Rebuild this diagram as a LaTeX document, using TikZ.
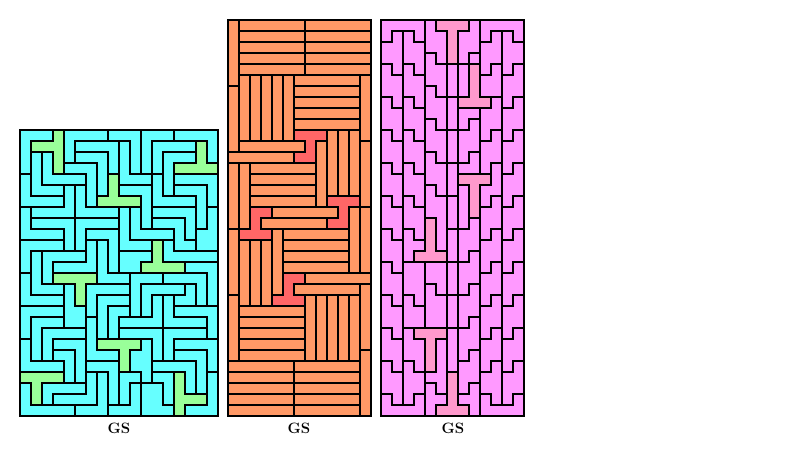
\documentclass[tikz,border=0pt]{standalone}
\usepackage{tikz}
\definecolor{cyanT}{HTML}{66FFFF}
\definecolor{greenT}{HTML}{99FF99}
\definecolor{orangeT}{HTML}{FF9966}
\definecolor{redT}{HTML}{FF6666}
\definecolor{pinkT}{HTML}{FF99FF}
\definecolor{tpinkT}{HTML}{FF99CC}
\tikzset{tgline/.style={line width=1.05pt,line cap=rect,black},
  gslabel/.style={font=\fontsize{15}{17}\selectfont\bfseries,inner sep=0pt}}
\newcommand\TGbox[5]{\fill[#5] (#1,#2) rectangle ++(#3,#4);}
\newcommand\TGspec[3]{\fill[#3] (#1-0.3,#2-0.3) rectangle (#1+11.3,#2+11.3);}
\newcommand\TGv[2]{\draw[tgline] (#1,#2) -- (#1,#2+11);}
\newcommand\TGh[2]{\draw[tgline] (#1,#2) -- (#1+11,#2);}
\newcommand\TGframe[4]{\draw[tgline] (#1,#2) rectangle ++(#3,#4);}
\ExplSyntaxOn
\seq_new:N \l__tg_rows_seq
\str_new:N \l__tg_a_str
\str_new:N \l__tg_b_str
\int_new:N \l__tg_nr_int
\int_new:N \l__tg_nc_int
\int_new:N \l__tg_x_int
\int_new:N \l__tg_y_int
\tl_new:N \l__tg_spec_tl
\cs_new_protected:Npn \__tg_fillrow:n #1
  {
    \str_set:Ne \l__tg_a_str { \seq_item:Nn \l__tg_rows_seq {#1} }
    \int_step_inline:nn { \l__tg_nc_int }
      {
        \str_if_eq:eeT { \str_item:Nn \l__tg_a_str {##1} } { * }
          {
            \use:e { \exp_not:N \TGspec
              { \int_eval:n { \l__tg_x_int + 11 * (##1 - 1) } }
              { \int_eval:n { \l__tg_y_int + 11 * (#1 - 1) } }
              { \exp_not:V \l__tg_spec_tl } }
          }
      }
  }
\cs_new_protected:Npn \__tg_linerow:n #1
  {
    \str_set:Ne \l__tg_a_str { \seq_item:Nn \l__tg_rows_seq {#1} }
    \str_set:Ne \l__tg_b_str { \seq_item:Nn \l__tg_rows_seq { #1 + 1 } }
    \int_step_inline:nn { \l__tg_nc_int }
      {
        \str_if_eq:eeF { \str_item:Nn \l__tg_a_str {##1} } { \str_item:Nn \l__tg_a_str { ##1 + 1 } }
          { \use:e { \exp_not:N \TGv { \int_eval:n { \l__tg_x_int + 11 * ##1 } } { \int_eval:n { \l__tg_y_int + 11 * (#1 - 1) } } } }
        \str_if_eq:eeF { \str_item:Nn \l__tg_a_str {##1} } { \str_item:Nn \l__tg_b_str {##1} }
          { \use:e { \exp_not:N \TGh { \int_eval:n { \l__tg_x_int + 11 * (##1 - 1) } } { \int_eval:n { \l__tg_y_int + 11 * #1 } } } }
      }
  }
\NewDocumentCommand \TileGrid { m m m m m }
  {
    \int_set:Nn \l__tg_x_int {#1}
    \int_set:Nn \l__tg_y_int {#2}
    \tl_set:Nn \l__tg_spec_tl {#4}
    \seq_set_from_clist:Nn \l__tg_rows_seq {#5}
    \int_set:Nn \l__tg_nr_int { \seq_count:N \l__tg_rows_seq }
    \str_set:Ne \l__tg_a_str { \seq_item:Nn \l__tg_rows_seq {1} }
    \int_set:Nn \l__tg_nc_int { \str_count:N \l__tg_a_str }
    \use:e { \exp_not:N \TGbox {#1} {#2} { \int_eval:n { 11 * \l__tg_nc_int } } { \int_eval:n { 11 * \l__tg_nr_int } } {#3} }
    \int_step_inline:nn { \l__tg_nr_int } { \__tg_fillrow:n {##1} }
    \int_step_inline:nn { \l__tg_nr_int } { \__tg_linerow:n {##1} }
    \use:e { \exp_not:N \TGframe {#1} {#2} { \int_eval:n { 11 * \l__tg_nc_int } } { \int_eval:n { 11 * \l__tg_nr_int } } }
  }
\ExplSyntaxOff
\begin{document}
\begin{tikzpicture}[x=1pt,y=-1pt]
\useasboundingbox (0,0) rectangle (800,455);
\fill[white] (0,0) rectangle (800,455);
% Panel 1
\TileGrid{20}{130}{cyanT}{greenT}{
aaa*bbbbxxxtttwwww,
a***bccccsxtuuuu*w,
afg*bdddcsxtuvvv*w,
afg*eeedcsxtuv****,
hfgggged*sssZvFFFF,
hfffijed*YYYZvGGGF,
hhhhije****YZZZZGF,
kiiiijjjjHIYJJJJGL,
kllllmmmmHIYKKKJGL,
kkkklmOOOHIIIIKJLL,
nnnnlmqPOHHH*NKKLL,
noppppqPOQQQ*NNNNN,
nopqqqqPOQQ****RRR,
rop****PPPSSSTTTTR,
rooo2*WWWWSUUUUVTR,
rrrr2*WXXXSUABVVTR,
333322WX11SUABCCCC,
3444226X1AAAABBBBC,
3455556X1DDDDEEEEC,
9457776****MDE++++,
945887666*MMDEzzz+,
999987000*MMyyyyz+,
****87>!0@@M//*yz=,
-*<<<<>!0@:;;/*yz=,
-*<>>>>!0@:;;/***=,
-----!!!:::;;;*===}
% Panel 2
\TileGrid{228}{20}{orangeT}{redT}{
abbbbbbdddddd,
acccccceeeeee,
abbbbbbdddddd,
acccccceeeeee,
abbbbbbdddddd,
afgfgfhhhhhhj,
kfgfgfiiiiiij,
kfgfgfhhhhhhj,
kfgfgfiiiiiij,
kfgfgfhhhhhhj,
kfgfgf***mnmj,
kllllll*pmnmo,
qqqqqq**pmnmo,
rsttttttpmnmo,
rsuuuuuupmnmo,
rsttttttpmnmo,
rsuuuuuup***o,
rs**vvvvvv*wx,
rs*yyyyyy**wx,
z***ABBBBBBwx,
zDEDACCCCCCwx,
zDEDABBBBBBwx,
zDEDACCCCCCwx,
zDEDA**FFFFFF,
zDEDA*GGGGGGH,
IDED***LMLMLH,
IJJJJJJLMLMLH,
IKKKKKKLMLMLH,
IJJJJJJLMLMLH,
IKKKKKKLMLMLH,
IJJJJJJLMLMLN,
OOOOOOQQQQQQN,
PPPPPPRRRRRRN,
OOOOOOQQQQQQN,
PPPPPPRRRRRRN,
OOOOOOQQQQQQN}
% Panel 3
\TileGrid{381}{20}{pinkT}{tpinkT}{
AAAAe***iBBBB,
AacAee*iiBkmB,
aaccee*iikkmm,
aaccfe*ijkkmm,
badcffgj*klmn,
bbddffgj*llnn,
bbddefgj*llnn,
abcdeeh***knm,
aacceehiikkmm,
aaccfehijkkmm,
badcffgjjklmn,
bbddffgjjllnn,
bbddefgjillnn,
abcdeehiilknm,
aacceeh***kmm,
aaccfehj*kkmm,
badcffgj*klmn,
bbddffgj*llnn,
bbdd*fgjillnn,
abcd*fhiilknm,
aacc*fhiikkmm,
aac***hijkkmm,
baddffgjjklmn,
bbddffgjjllnn,
bbddefgjillnn,
abcdeehiilknm,
aacceehiikkmm,
aacceehijkkmm,
bad***gjjklmn,
bbdd*egjjllnn,
bbdd*egjillnn,
abcd*egiilknm,
aaccee*iikkmm,
aaccfe*ijkkmm,
CacCff*jjDkmD,
CCCCf***jDDDD}
\node[gslabel] (l1) at (119,428) {GS};
\node[gslabel] (l2) at (299,428) {GS};
\node[gslabel] (l3) at (453,428) {GS};
\end{tikzpicture}
\end{document}
